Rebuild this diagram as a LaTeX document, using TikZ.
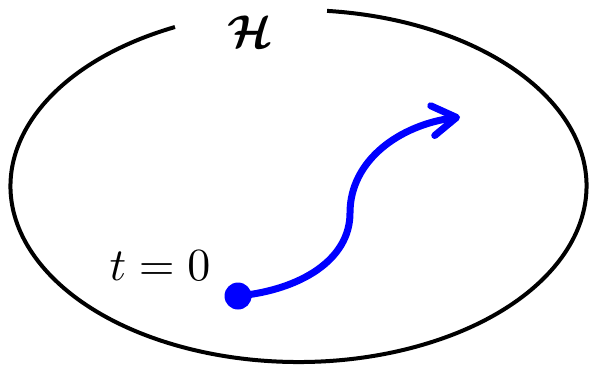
\documentclass[tikz,border=0pt]{standalone}
\usepackage{graphicx}
\usepackage{amsmath,bm}
\usetikzlibrary{arrows.meta}
\begin{document}
\begin{tikzpicture}[x=1pt,y=1pt,
  hspace/.style={line width=4pt},
  traj/.style={blue,line width=7pt,line cap=round,
    -{Straight Barb[length=24pt,width=30pt,line width=7pt,round]}},
  lbl/.style={inner sep=0pt}]
\useasboundingbox (0,0) rectangle (589,365);
\coordinate (c) at (298.5,179);
\draw[hspace] ([shift={(115.4:288 and 176)}]c) arc[start angle=115.4,end angle=444.3,x radius=288,y radius=176];
\node[lbl] (H) at (250,333) {\scalebox{4.6}{$\bm{\mathcal{H}}$}};
\node[lbl] (t0) at (160,99) {\scalebox{4.6}{$t=0$}};
\fill[blue] (238,69) circle (13.5) node (start) {};
\coordinate (mid) at (350,152);
\coordinate (tip) at (460,248);
\draw[traj] (238,69) .. controls (300,75) and (350,105) .. (mid) .. controls (350,205) and (400,240) .. (tip);
\end{tikzpicture}
\end{document}
